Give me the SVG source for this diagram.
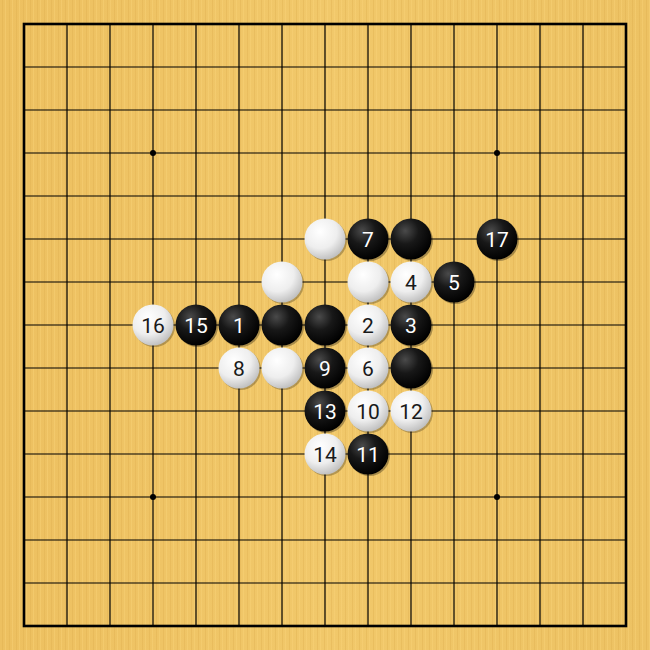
<svg xmlns="http://www.w3.org/2000/svg" width="650" height="650" viewBox="0 0 650 650">
<style>
.grid line{stroke:#000;stroke-width:1.2}
.num{font-family:Roboto,"Liberation Sans",sans-serif;font-size:21px;text-anchor:middle;dominant-baseline:central}
.b text{fill:#fff}
.w text{fill:#1a1a1a}
</style>
<defs>
<linearGradient id="wood" x1="0" y1="0" x2="1" y2="0">
<stop offset="0" stop-color="#edc060"/>
<stop offset="0.5" stop-color="#f1c86a"/>
<stop offset="1" stop-color="#edc263"/>
</linearGradient>
<pattern id="grain" width="7" height="650" patternUnits="userSpaceOnUse">
<rect width="7" height="650" fill="none"/>
<rect x="2" width="1" height="650" fill="#dcaa4c" opacity="0.35"/>
<rect x="5" width="1" height="650" fill="#f9d47a" opacity="0.4"/>
</pattern>
<radialGradient id="gb" cx="0.36" cy="0.3" r="0.72">
<stop offset="0" stop-color="#4a4a4a"/>
<stop offset="0.45" stop-color="#181818"/>
<stop offset="1" stop-color="#000"/>
</radialGradient>
<radialGradient id="gw" cx="0.38" cy="0.32" r="0.75">
<stop offset="0" stop-color="#ffffff"/>
<stop offset="0.55" stop-color="#eeeeee"/>
<stop offset="1" stop-color="#b8b8b8"/>
</radialGradient>
<symbol id="B" overflow="visible"><circle cx="1.5" cy="1.5" r="20.5" fill="#000" opacity="0.3"/><circle r="20.5" fill="url(#gb)"/></symbol>
<symbol id="W" overflow="visible"><circle cx="1.5" cy="1.5" r="20.5" fill="#000" opacity="0.25"/><circle r="20.5" fill="url(#gw)"/></symbol>
</defs>
<rect width="650" height="650" fill="url(#wood)"/>
<rect width="650" height="650" fill="url(#grain)"/>
<g id="board" class="grid">
<line x1="24" y1="67" x2="626" y2="67"/><line x1="24" y1="110" x2="626" y2="110"/><line x1="24" y1="153" x2="626" y2="153"/><line x1="24" y1="196" x2="626" y2="196"/><line x1="24" y1="239" x2="626" y2="239"/><line x1="24" y1="282" x2="626" y2="282"/><line x1="24" y1="325" x2="626" y2="325"/><line x1="24" y1="368" x2="626" y2="368"/><line x1="24" y1="411" x2="626" y2="411"/><line x1="24" y1="454" x2="626" y2="454"/><line x1="24" y1="497" x2="626" y2="497"/><line x1="24" y1="540" x2="626" y2="540"/><line x1="24" y1="583" x2="626" y2="583"/>
<line x1="67" y1="24" x2="67" y2="626"/><line x1="110" y1="24" x2="110" y2="626"/><line x1="153" y1="24" x2="153" y2="626"/><line x1="196" y1="24" x2="196" y2="626"/><line x1="239" y1="24" x2="239" y2="626"/><line x1="282" y1="24" x2="282" y2="626"/><line x1="325" y1="24" x2="325" y2="626"/><line x1="368" y1="24" x2="368" y2="626"/><line x1="411" y1="24" x2="411" y2="626"/><line x1="454" y1="24" x2="454" y2="626"/><line x1="497" y1="24" x2="497" y2="626"/><line x1="540" y1="24" x2="540" y2="626"/><line x1="583" y1="24" x2="583" y2="626"/>
<rect x="24" y="24" width="602" height="602" fill="none" stroke="#000" stroke-width="2.6"/>
<circle cx="153" cy="153" r="3"/><circle cx="497" cy="153" r="3"/><circle cx="153" cy="497" r="3"/><circle cx="497" cy="497" r="3"/><circle cx="325" cy="325" r="3"/>
</g>
<g id="stones">
<g id="s-w-h6" class="w"><use href="#W" x="325" y="239"/></g>
<g id="s7" class="b"><use href="#B" x="368" y="239"/><text class="num" x="368" y="240">7</text></g>
<g id="s-b-k6" class="b"><use href="#B" x="411" y="239"/></g>
<g id="s17" class="b"><use href="#B" x="497" y="239"/><text class="num" x="497" y="240">17</text></g>
<g id="s-w-g7" class="w"><use href="#W" x="282" y="282"/></g>
<g id="s-w-j7" class="w"><use href="#W" x="368" y="282"/></g>
<g id="s4" class="w"><use href="#W" x="411" y="282"/><text class="num" x="411" y="283">4</text></g>
<g id="s5" class="b"><use href="#B" x="454" y="282"/><text class="num" x="454" y="283">5</text></g>
<g id="s16" class="w"><use href="#W" x="153" y="325"/><text class="num" x="153" y="326">16</text></g>
<g id="s15" class="b"><use href="#B" x="196" y="325"/><text class="num" x="196" y="326">15</text></g>
<g id="s1" class="b"><use href="#B" x="239" y="325"/><text class="num" x="239" y="326">1</text></g>
<g id="s-b-g8" class="b"><use href="#B" x="282" y="325"/></g>
<g id="s-b-h8" class="b"><use href="#B" x="325" y="325"/></g>
<g id="s2" class="w"><use href="#W" x="368" y="325"/><text class="num" x="368" y="326">2</text></g>
<g id="s3" class="b"><use href="#B" x="411" y="325"/><text class="num" x="411" y="326">3</text></g>
<g id="s8" class="w"><use href="#W" x="239" y="368"/><text class="num" x="239" y="369">8</text></g>
<g id="s-w-g9" class="w"><use href="#W" x="282" y="368"/></g>
<g id="s9" class="b"><use href="#B" x="325" y="368"/><text class="num" x="325" y="369">9</text></g>
<g id="s6" class="w"><use href="#W" x="368" y="368"/><text class="num" x="368" y="369">6</text></g>
<g id="s-b-k9" class="b"><use href="#B" x="411" y="368"/></g>
<g id="s13" class="b"><use href="#B" x="325" y="411"/><text class="num" x="325" y="412">13</text></g>
<g id="s10" class="w"><use href="#W" x="368" y="411"/><text class="num" x="368" y="412">10</text></g>
<g id="s12" class="w"><use href="#W" x="411" y="411"/><text class="num" x="411" y="412">12</text></g>
<g id="s14" class="w"><use href="#W" x="325" y="454"/><text class="num" x="325" y="455">14</text></g>
<g id="s11" class="b"><use href="#B" x="368" y="454"/><text class="num" x="368" y="455">11</text></g>
</g>
</svg>
